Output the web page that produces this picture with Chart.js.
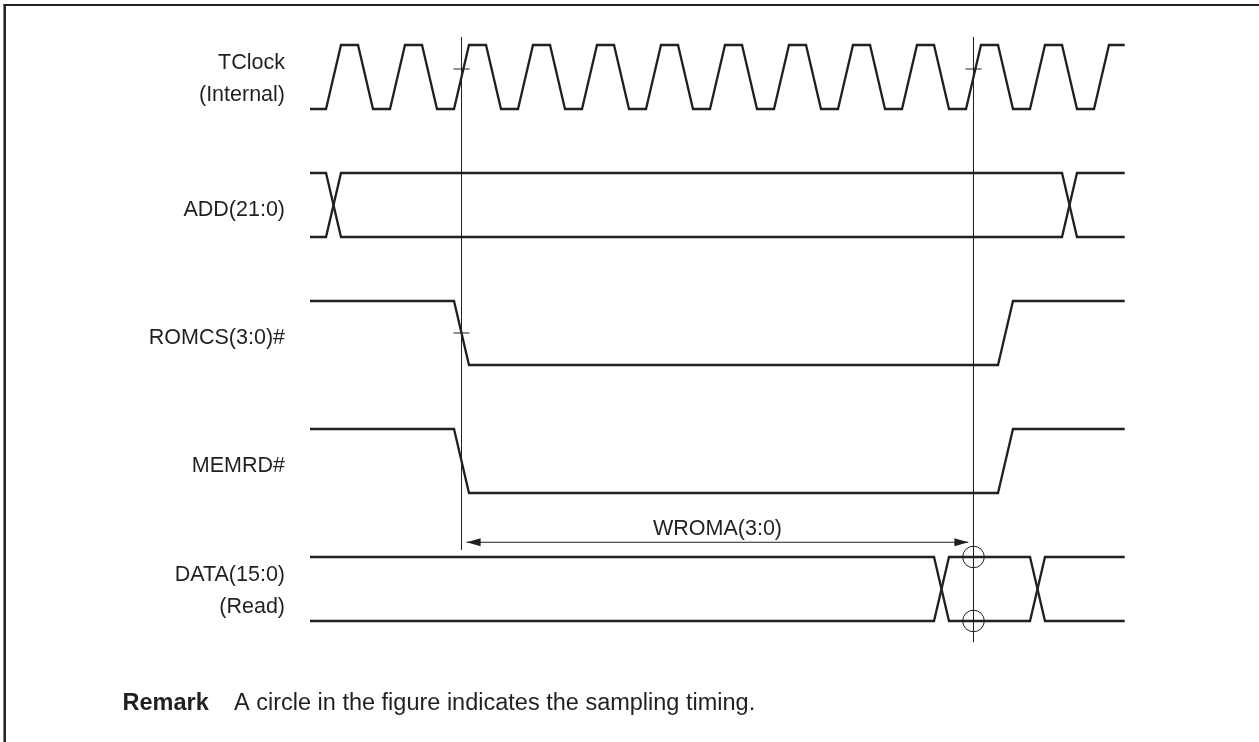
<!DOCTYPE html>
<html>
<head>
<meta charset="utf-8">
<script src="https://cdn.jsdelivr.net/npm/chart.js@4/dist/chart.umd.min.js"></script>
<style>
  html, body { margin: 0; padding: 0; background: #fff; }
</style>
</head>
<body>
<canvas id="timing" width="1259" height="742"></canvas>
<script>
// time unit = one TClock period, t = 0 at the first rising edge
// each signal row r: high level at y = 2r, low level at y = 2r + 1
const EDGE = 0.234;      // rise / fall time
const T_START = -0.25;
const T_END = 12.48;

const signalLabels = [["TClock", "(Internal)"], ["ADD(21:0)"], ["ROMCS(3:0)#"], ["MEMRD#"], ["DATA(15:0)", "(Read)"]];

const clockEdges = [0, 0.5, 1, 1.5, 2, 2.5, 3, 3.5, 4, 4.5, 5, 5.5, 6, 6.5, 7, 7.5, 8, 8.5, 9, 9.5, 10, 10.5, 11, 11.5, 12];
const addChanges = [0, 11.5];
const romcsEdges = [2, 10.5];
const memrdEdges = [2, 10.5];
const dataChanges = [9.5, 11];

const markerTimes = [2.117, 10.117];
const markerTop = -0.125;
const markerBottoms = [7.89, 9.33];
const clockTickY = 0.375;
const romcsTickY = 4.5;
const tickHalf = 0.125;

const wromaLabel = "WROMA(3:0)";
const wromaY = 7.77;
const arrowGap = 0.08;

const sampleTime = 10.117;
const sampleLevels = [8, 9];

const remarkHead = "Remark";
const remarkText = "A circle in the figure indicates the sampling timing.";

const INK = "#231f20";
const FONT = '21.5px "Liberation Sans", Arial, sans-serif';
const REMARK_FONT = '23.5px "Liberation Sans", Arial, sans-serif';

function levelY(row, level) {
  return row * 2 + (1 - level);
}

function wave(row, edges, start) {
  let lvl = start;
  const pts = [{ x: T_START, y: levelY(row, lvl) }];
  edges.forEach(e => {
    pts.push({ x: e, y: levelY(row, lvl) });
    lvl = 1 - lvl;
    pts.push({ x: e + EDGE, y: levelY(row, lvl) });
  });
  pts.push({ x: T_END, y: levelY(row, lvl) });
  return pts;
}

function lineSet(data, width) {
  return {
    data,
    showLine: true,
    borderColor: INK,
    borderWidth: width,
    pointRadius: 0,
    tension: 0,
    borderJoinStyle: "miter",
    borderCapStyle: "butt"
  };
}

const datasets = [
  lineSet(wave(0, clockEdges, 0), 2.3),
  lineSet(wave(1, addChanges, 1), 2.3),
  lineSet(wave(1, addChanges, 0), 2.3),
  lineSet(wave(2, romcsEdges, 1), 2.3),
  lineSet(wave(3, memrdEdges, 1), 2.3),
  lineSet(wave(4, dataChanges, 1), 2.3),
  lineSet(wave(4, dataChanges, 0), 2.3)
];

markerTimes.forEach((t, i) => {
  datasets.push(lineSet([{ x: t, y: markerTop }, { x: t, y: markerBottoms[i] }], 1));
  datasets.push(lineSet([{ x: t - tickHalf, y: clockTickY }, { x: t + tickHalf, y: clockTickY }], 1));
});
datasets.push(lineSet([{ x: markerTimes[0] - tickHalf, y: romcsTickY }, { x: markerTimes[0] + tickHalf, y: romcsTickY }], 1));
datasets.push(lineSet([{ x: markerTimes[0] + arrowGap, y: wromaY }, { x: markerTimes[1] - arrowGap, y: wromaY }], 1));

datasets.push({
  data: sampleLevels.map(y => ({ x: sampleTime, y })),
  showLine: false,
  pointRadius: 10.8,
  pointHoverRadius: 10.8,
  pointBorderWidth: 1,
  pointBorderColor: INK,
  pointBackgroundColor: "rgba(0,0,0,0)"
});

const decor = {
  id: "decor",
  afterDatasetsDraw(chart) {
    const { ctx, scales: { x, y } } = chart;
    ctx.save();

    // frame
    ctx.strokeStyle = INK;
    ctx.lineWidth = 2.5;
    ctx.beginPath();
    ctx.moveTo(4.7, 742);
    ctx.lineTo(4.7, 5);
    ctx.stroke();
    ctx.lineWidth = 2;
    ctx.beginPath();
    ctx.moveTo(3.5, 5);
    ctx.lineTo(1259, 5);
    ctx.stroke();

    // signal names
    ctx.fillStyle = INK;
    ctx.font = FONT;
    ctx.textAlign = "right";
    ctx.textBaseline = "alphabetic";
    signalLabels.forEach((lines, r) => {
      const mid = y.getPixelForValue(r * 2 + 0.5);
      if (lines.length === 1) {
        ctx.fillText(lines[0], 285, mid + 3 + 7.7);
      } else {
        ctx.fillText(lines[0], 285, mid - 16 + 7.7);
        ctx.fillText(lines[1], 285, mid + 16 + 7.7);
      }
    });

    // arrow heads
    const ay = y.getPixelForValue(wromaY);
    const lx = x.getPixelForValue(markerTimes[0] + arrowGap);
    const rx = x.getPixelForValue(markerTimes[1] - arrowGap);
    ctx.beginPath();
    ctx.moveTo(lx, ay);
    ctx.lineTo(lx + 14, ay - 4);
    ctx.lineTo(lx + 14, ay + 4);
    ctx.closePath();
    ctx.fill();
    ctx.beginPath();
    ctx.moveTo(rx, ay);
    ctx.lineTo(rx - 14, ay - 4);
    ctx.lineTo(rx - 14, ay + 4);
    ctx.closePath();
    ctx.fill();

    ctx.textAlign = "center";
    ctx.fillText(wromaLabel, (lx + rx) / 2, ay - 7);

    // remark
    ctx.textAlign = "left";
    ctx.font = 'bold ' + REMARK_FONT;
    ctx.fillText(remarkHead, 122.5, 710);
    ctx.font = REMARK_FONT;
    ctx.fillText(remarkText, 234, 710);

    ctx.restore();
  }
};

new Chart(document.getElementById("timing"), {
  type: "scatter",
  data: { datasets },
  options: {
    responsive: false,
    animation: false,
    events: [],
    layout: { padding: 0, autoPadding: false },
    plugins: { legend: { display: false }, tooltip: { enabled: false } },
    scales: {
      x: { type: "linear", display: false, min: -5.094, max: 14.578 },
      y: { type: "linear", display: false, reverse: true, min: -0.703, max: 10.891 }
    }
  },
  plugins: [decor]
});
</script>
</body>
</html>
